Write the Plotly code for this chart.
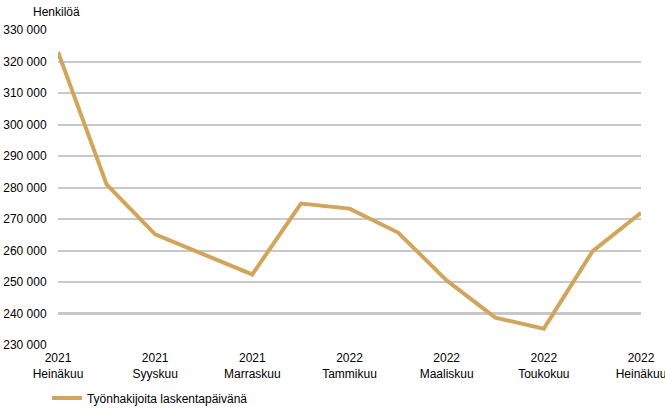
import plotly.graph_objects as go

MONTHS = ["2021-07", "2021-08", "2021-09", "2021-10", "2021-11", "2021-12",
          "2022-01", "2022-02", "2022-03", "2022-04", "2022-05", "2022-06", "2022-07"]
JOBSEEKERS = [323000, 281000, 265100, 258700, 252400, 274900, 273300,
              265700, 250500, 238700, 235200, 259700, 272000]
TICK_POS = [0, 2, 4, 6, 8, 10, 12]
TICK_TEXT = ["2021<br>Heinäkuu", "2021<br>Syyskuu", "2021<br>Marraskuu",
             "2022<br>Tammikuu", "2022<br>Maaliskuu", "2022<br>Toukokuu",
             "2022<br>Heinäkuu"]
Y_TICKS = list(range(230000, 330001, 10000))

FONT = "Liberation Sans, Arial, sans-serif"
GOLD = "#D1A55B"
CLEAR = "rgba(0,0,0,0)"

fig = go.Figure(go.Scatter(
    x=list(range(len(MONTHS))),
    y=JOBSEEKERS,
    mode="lines",
    name="Työnhakijoita laskentapäivänä",
    line=dict(color=GOLD, width=4),
))

fig.update_layout(
    width=665, height=410,
    paper_bgcolor="#FFFFFF",
    plot_bgcolor="#FFFFFF",
    margin=dict(l=58, r=24, t=30, b=65, autoexpand=False),
    font=dict(family=FONT, size=12, color="#000000"),
    separators=", ",
    showlegend=True,
    legend=dict(orientation="h", x=-0.019, xref="paper", xanchor="left",
                y=-0.168, yanchor="middle", font=dict(size=12),
                bgcolor=CLEAR),
    xaxis=dict(
        range=[0, 12], tickvals=TICK_POS, ticktext=TICK_TEXT,
        showgrid=False, zeroline=False, showline=False,
        tickfont=dict(size=12), ticks="outside", ticklen=2, tickcolor=CLEAR,
        ticklabeloverflow="allow", automargin=False,
    ),
    yaxis=dict(
        range=[230000, 330000], tickvals=Y_TICKS, tickformat=",d",
        showgrid=True, gridcolor="#C8C8C8", gridwidth=1.5,
        zeroline=False, showline=False,
        ticks="outside", ticklen=8, tickcolor=CLEAR,
        tickfont=dict(size=12), automargin=False,
    ),
    annotations=[dict(
        text="Henkilöä", xref="paper", yref="paper", x=0, y=1.0,
        xanchor="center", yanchor="bottom", xshift=-2, yshift=9,
        showarrow=False, font=dict(size=12),
    )],
    shapes=[dict(
        type="line", xref="paper", yref="y", x0=0, x1=1, y0=240000, y1=240000,
        line=dict(color="#C8C8C8", width=3), layer="below",
    )],
)

# page body has a default 8px margin; drop it so the 665x410 figure fills the window
fig.write_html("out.html", config={"displayModeBar": False},
               post_script="document.body.style.margin='0';")
